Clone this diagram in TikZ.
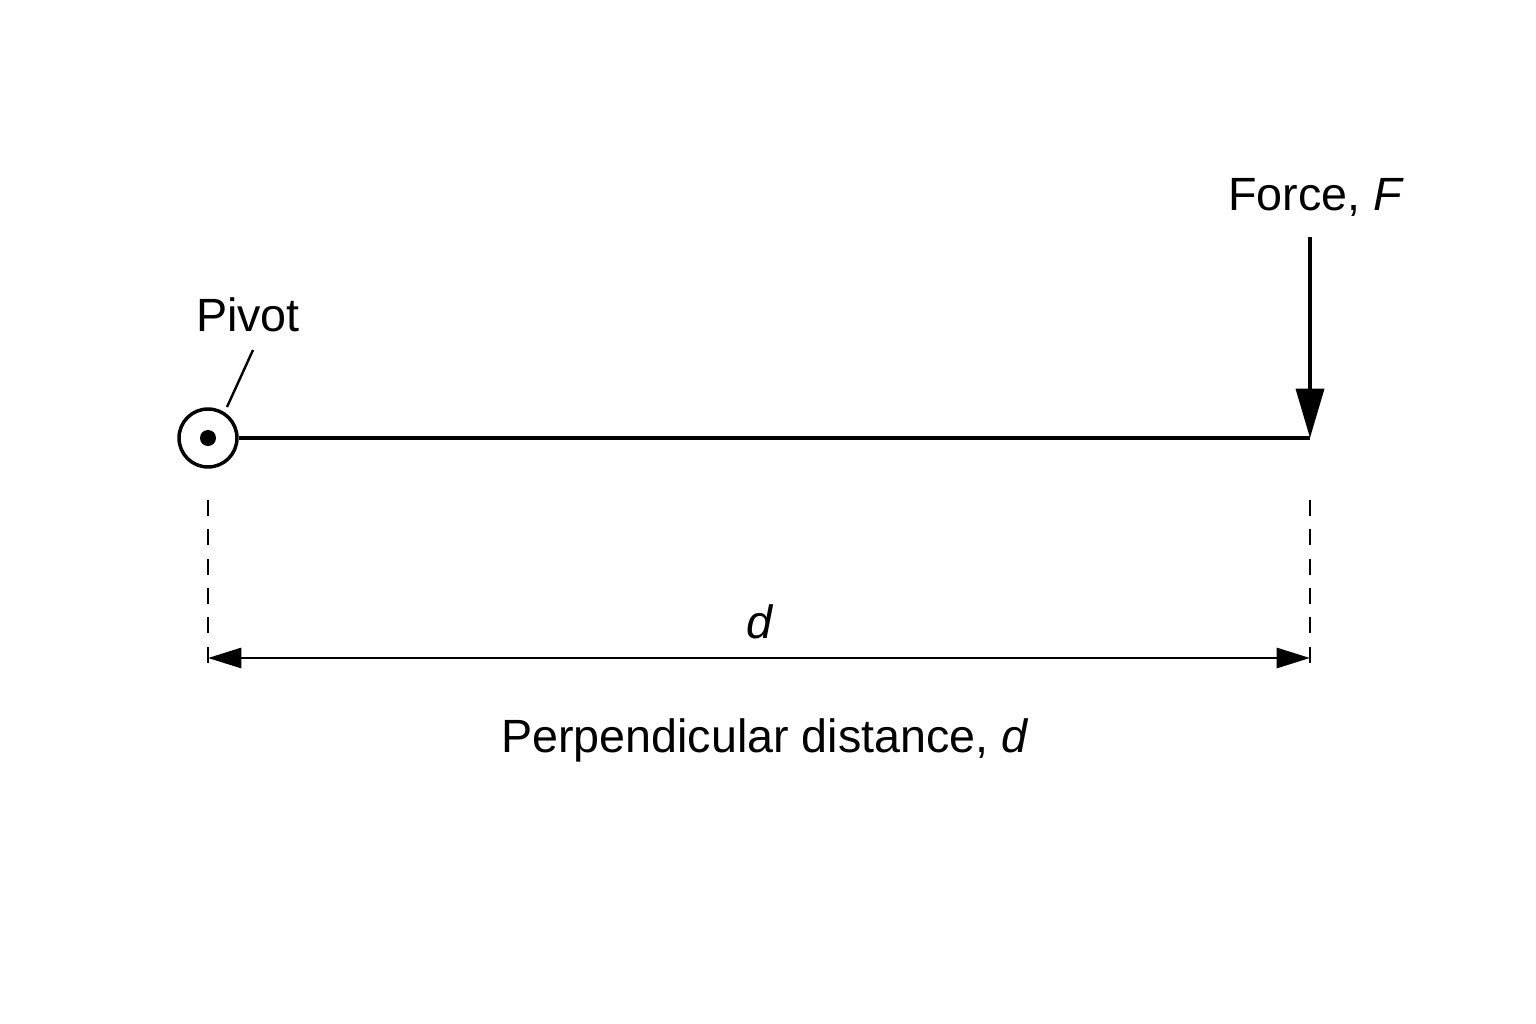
\documentclass[tikz,border=0pt]{standalone}
\usepackage{fontspec}
\setmainfont{Liberation Sans}
\usetikzlibrary{arrows.meta}

\tikzset{
  lbl/.style={inner sep=0.75pt, font=\fontsize{35}{40}\selectfont},
  dimline/.style={line width=1.9pt, dash pattern=on 12pt off 10pt},
}

\begin{document}
\begin{tikzpicture}[x=0.75pt,y=0.75pt,yscale=-1,xscale=1]
\useasboundingbox (0,0) rectangle (1536,1024);

%Pivot
\node (pivot) [circle, draw, line width=2.6pt, minimum size=58*0.75pt, inner sep=0pt] at (208,438) {};
\fill (pivot.center) circle (8*0.75pt);
% Text Node
\node (pivotlbl) [lbl] at (248,315) {Pivot};
\coordinate (lead) at (253,350);
\coordinate (leadend) at (227,407);
\draw [line width=1.8pt] (lead) -- (leadend);

%Beam
\coordinate (tip) at (1310,438);
\draw [line width=2.7pt] (pivot.east) -- (tip);

%Force arrow
\node (forcelbl) [lbl] at (1316,197) {Force, \textit{F}};
\coordinate (ftop) at (1310,237);
\draw [line width=2.7pt, -{Triangle[length=37pt,width=21pt]}] (ftop) -- (tip);

%Dimension lines
\coordinate (la) at (208,500);
\coordinate (lb) at (208,670);
\coordinate (ra) at (1310,500);
\coordinate (rb) at (1310,670);
\draw [dimline] (la) -- (lb);
\draw [dimline] (ra) -- (rb);
\coordinate (da) at (208,658);
\coordinate (db) at (1310,658);
\draw [line width=2.2pt, {Triangle[length=25pt,width=15pt]}-{Triangle[length=25pt,width=15pt]}] (da) -- (db);

% Text Node
\node (dlbl) [lbl] at (760,622) {\textit{d}};
% Text Node
\node (perplbl) [lbl] at (765,740) {Perpendicular distance, \textit{d}};

\end{tikzpicture}
\end{document}
